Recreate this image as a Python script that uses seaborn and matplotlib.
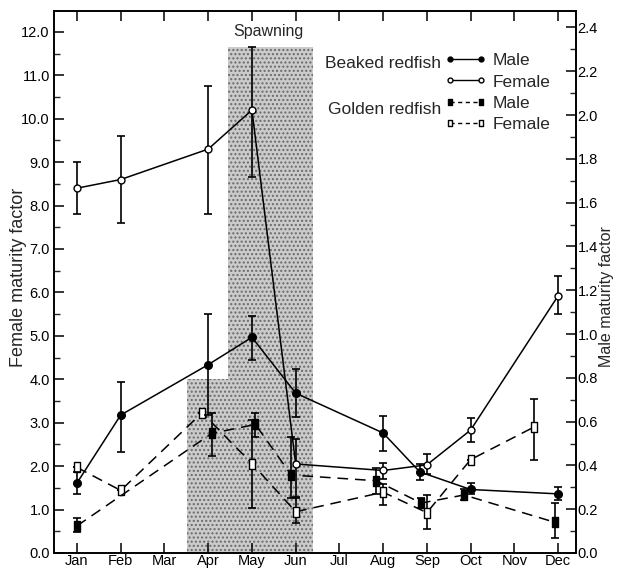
import numpy as np
import pandas as pd
import matplotlib
matplotlib.use("Agg")
import matplotlib.pyplot as plt
from matplotlib.path import Path
from matplotlib.lines import Line2D
from matplotlib.ticker import MultipleLocator
import seaborn as sns

# ---------------- data ----------------
months = ["Jan", "Feb", "Mar", "Apr", "May", "Jun", "Jul", "Aug", "Sep", "Oct", "Nov", "Dec"]

# Beaked redfish, female (left axis)
bf_x = [0, 1, 3, 4, 5, 7, 8, 9, 11]
bf_y = [8.4, 8.6, 9.3, 10.2, 2.05, 1.9, 2.03, 2.83, 5.92]
bf_lo = [7.8, 7.6, 7.8, 8.65, 1.28, 1.7, 1.83, 2.56, 5.5]
bf_hi = [9.0, 9.6, 10.75, 11.65, 2.62, 2.08, 2.27, 3.1, 6.37]

# Beaked redfish, male (right axis)
bm_x = [0, 1, 3, 4, 5, 7, 7.84, 9, 11]
bm_y = [0.32, 0.63, 0.86, 0.985, 0.73, 0.548, 0.37, 0.29, 0.27]
bm_lo = [0.27, 0.46, 0.63, 0.88, 0.62, 0.466, 0.333, 0.27, 0.24]
bm_hi = [0.37, 0.78, 1.09, 1.08, 0.84, 0.625, 0.406, 0.32, 0.30]

# Golden redfish, male (right axis)
gm_x = [0, 3.08, 4.08, 4.9, 6.84, 7.87, 8.85, 10.93]
gm_y = [0.124, 0.546, 0.587, 0.356, 0.33, 0.228, 0.265, 0.14]
gm_lo = [0.096, 0.445, 0.53, 0.25, 0.27, 0.205, 0.24, 0.068]
gm_hi = [0.16, 0.64, 0.64, 0.53, 0.39, 0.25, 0.29, 0.228]

# Golden redfish, female (left axis)
gf_x = [0, 1, 2.86, 4, 5, 7, 8, 9, 10.45]
gf_y = [1.97, 1.44, 3.23, 2.06, 0.95, 1.4, 0.93, 2.15, 2.9]
gf_lo = [1.97, 1.44, 3.23, 1.03, 0.68, 1.1, 0.55, 2.15, 2.15]
gf_hi = [1.97, 1.44, 3.23, 3.07, 1.27, 1.6, 1.33, 2.15, 3.55]

# Spawning period shading (month position, left-axis height)
spawn_early = ([2.52, 3.46], 4.0)
spawn_main = ([3.46, 5.40], 11.66)

# ---------------- style ----------------
sns.set_theme(style="ticks")
plt.rcParams["font.family"] = ["Liberation Sans", "DejaVu Sans"]
plt.rcParams["hatch.linewidth"] = 1.0

fig = plt.figure(figsize=(6.17, 5.68), dpi=100)
ax = fig.add_axes([54 / 617, 1 - 553 / 568, (576 - 54) / 617, (553 - 11) / 568])
ax2 = ax.twinx()

ax.set_xlim(-0.526, 11.41)
ax.set_ylim(0, 12.48)
ax2.set_ylim(0, 2.475)

# shading
for xs, top in (spawn_early, spawn_main):
    ax.fill_between(xs, 0, top, facecolor="#cbcbcb", edgecolor="#6a6a6a",
                    hatch="....", linewidth=0, zorder=0)
ax.text(4.37, 12.0, "Spawning", ha="center", va="center", fontsize=11.5)

rect = Path([(-0.55, -1), (0.55, -1), (0.55, 1), (-0.55, 1), (-0.55, -1)],
            [Path.MOVETO, Path.LINETO, Path.LINETO, Path.LINETO, Path.CLOSEPOLY])

lw = 1.1
dash = (0, (7, 4.5))

def series(a, x, y, lo, hi, marker, face, ls, ms):
    df = pd.DataFrame({"x": x, "y": y})
    sns.lineplot(data=df, x="x", y="y", ax=a, color="black", linewidth=lw,
                 linestyle=ls, marker=marker, markersize=ms,
                 markerfacecolor=face, markeredgecolor="black",
                 markeredgewidth=1.0, errorbar=None, zorder=4)
    yerr = [np.array(y) - np.array(lo), np.array(hi) - np.array(y)]
    a.errorbar(x, y, yerr=yerr, fmt="none", ecolor="black", elinewidth=1.2,
               capsize=2.8, capthick=1.2, zorder=3)

series(ax, bf_x, bf_y, bf_lo, bf_hi, "o", "white", "-", 5)
series(ax, gf_x, gf_y, gf_lo, gf_hi, rect, "white", dash, 7)
series(ax2, bm_x, bm_y, bm_lo, bm_hi, "o", "black", "-", 5.5)
series(ax2, gm_x, gm_y, gm_lo, gm_hi, rect, "black", dash, 7)

# axes & ticks
ax.set_xticks(range(12))
ax.set_xticklabels(months)
ax.set_yticks(np.arange(0, 12.01, 1.0))
ax.set_yticklabels([f"{v:.1f}" for v in np.arange(0, 12.01, 1.0)])
ax.yaxis.set_minor_locator(MultipleLocator(0.5))
ax2.set_yticks(np.arange(0, 2.41, 0.2))
ax2.set_yticklabels([f"{v:.1f}" for v in np.arange(0, 2.41, 0.2)])
ax2.yaxis.set_minor_locator(MultipleLocator(0.1))

ax.tick_params(axis="x", which="major", direction="in", top=True, length=7,
               width=1.1, labelsize=10.5, pad=1, colors="black")
ax.tick_params(axis="y", which="major", direction="in", length=7, width=1.1,
               labelsize=10.5, pad=3, colors="black")
ax.tick_params(axis="y", which="minor", direction="in", length=4.5, width=1.0)
ax2.tick_params(axis="y", which="major", direction="in", length=7, width=1.1,
                labelsize=10.5, pad=1, colors="black")
ax2.tick_params(axis="y", which="minor", direction="in", length=4.5, width=1.0)

for a in (ax, ax2):
    for s in a.spines.values():
        s.set_linewidth(1.2)
        s.set_color("black")

ax.set_xlabel("")
ax.set_ylabel("Female maturity factor", fontsize=13)
ax.yaxis.set_label_coords(-0.052, 0.508)
ax2.set_xlabel("")
ax2.set_ylabel("Male maturity factor", fontsize=11.5)
ax2.yaxis.set_label_coords(1.0445, 0.474)

# legend
handles = [
    Line2D([], [], color="black", lw=1.0, ls="-", marker="o", ms=3.5,
           mfc="black", mec="black"),
    Line2D([], [], color="black", lw=1.0, ls="-", marker="o", ms=3.5,
           mfc="white", mec="black"),
    Line2D([], [], color="black", lw=1.0, ls=(0, (3, 2.5)), marker=rect, ms=5,
           mfc="black", mec="black"),
    Line2D([], [], color="black", lw=1.0, ls=(0, (3, 2.5)), marker=rect, ms=5,
           mfc="white", mec="black"),
]
leg = ax2.legend(handles, ["Male", "Female", "Male", "Female"], numpoints=2,
                 loc="upper left", bbox_to_anchor=(445 / 617, 1 - 53 / 568),
                 bbox_transform=fig.transFigure, frameon=False, fontsize=12.5,
                 handlelength=2.4, handletextpad=0.35, labelspacing=0.36,
                 borderpad=0, borderaxespad=0)
fig.text(441 / 617, 1 - 63 / 568, "Beaked redfish", ha="right", va="center",
         fontsize=12.5)
fig.text(441 / 617, 1 - 110 / 568, "Golden redfish", ha="right", va="center",
         fontsize=12.5)

fig.savefig("out.png", dpi=100)
